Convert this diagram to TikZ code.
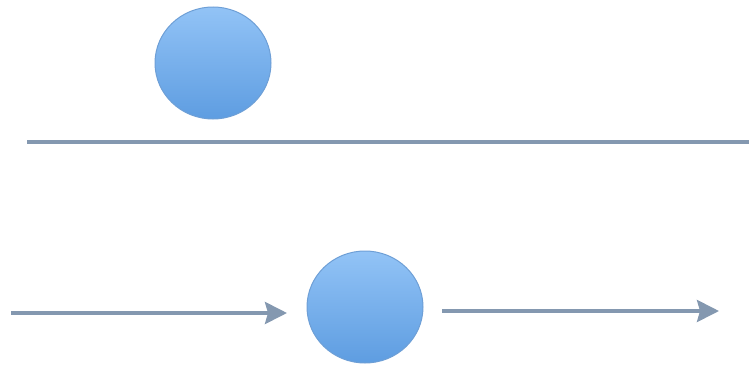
\documentclass[tikz,border=0pt]{standalone}
\usetikzlibrary{arrows.meta,shapes.geometric}
\definecolor{ballTop}{HTML}{92C3F6}
\definecolor{ballBot}{HTML}{5E9DE1}
\definecolor{ballEdge}{HTML}{6E9FD6}
\definecolor{lineCol}{HTML}{8498B0}
\tikzset{
  ball/.style={ellipse, minimum width=116pt, minimum height=112pt, inner sep=0pt,
    top color=ballTop, bottom color=ballBot, draw=ballEdge, line width=1pt},
  conn/.style={draw=lineCol, line width=3.6pt},
  arr/.style={conn, -{Stealth[length=22pt,width=22pt,inset=3pt]}}
}
\begin{document}
\begin{tikzpicture}[x=1pt,y=-1pt]
\useasboundingbox (0,0) rectangle (752,364);
\node[ball] (top) at (213,63) {};
\coordinate (lineL) at (27,142);
\coordinate (lineR) at (749,142);
\draw[conn] (lineL) -- (lineR);
\node[ball] (mid) at (365,307) {};
\coordinate (inL) at (11,313);
\coordinate (inR) at (287,313);
\coordinate (outL) at (442,311);
\coordinate (outR) at (719,311);
\draw[arr] (inL) -- (inR);
\draw[arr] (outL) -- (outR);
\end{tikzpicture}
\end{document}
